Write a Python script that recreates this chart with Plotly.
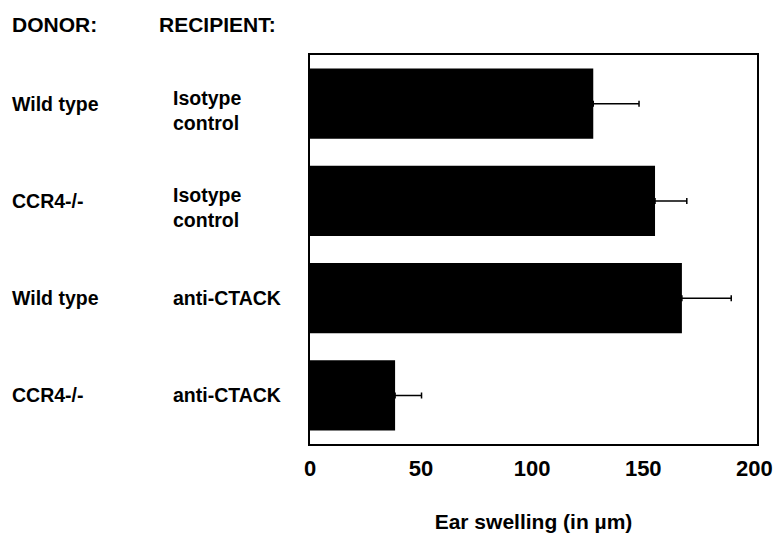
import plotly.graph_objects as go

donors = ["Wild type", "CCR4-/-", "Wild type", "CCR4-/-"]
recipients = ["Isotype<br>control", "Isotype<br>control", "anti-CTACK", "anti-CTACK"]
swelling = [127.5, 155.3, 167.4, 38.3]
errors = [20.6, 14.3, 22.2, 11.9]
xticks = [0, 50, 100, 150, 200]
header_donor = "DONOR:"
header_recipient = "RECIPIENT:"
x_title = "Ear swelling (in µm)"

W, H = 779, 533
ML, MR, MT, MB = 310, 22, 55, 89
PW = W - ML - MR
PH = H - MT - MB

def px2paper(px):
    return (px - ML) / PW

def py2paper(py):
    return 1 - (py - MT) / PH

FONT = "Liberation Sans, Arial, Helvetica, sans-serif"
rows = list(range(len(donors)))

fig = go.Figure()
fig.add_trace(go.Bar(
    x=swelling, y=rows, orientation="h",
    marker=dict(color="black", line=dict(width=0)),
    width=0.72,
    error_x=dict(type="data", array=errors, symmetric=False,
                 arrayminus=[0] * len(errors),
                 color="black", thickness=1.5, width=3),
    showlegend=False,
))

annotations = []
for i, (d, r) in enumerate(zip(donors, recipients)):
    annotations.append(dict(
        x=px2paper(10), xref="paper", y=i, yref="y",
        text=f"<b>{d}</b>", showarrow=False, xanchor="left", yanchor="middle",
        font=dict(family=FONT, size=19.5, color="black"), align="left"))
    two_line = "<br>" in r
    annotations.append(dict(
        x=px2paper(171), xref="paper", y=i, yref="y",
        yshift=-7 if two_line else 0,
        text=f"<b>{r}</b>", showarrow=False, xanchor="left", yanchor="middle",
        font=dict(family=FONT, size=19.5, color="black"), align="left"))

annotations.append(dict(x=px2paper(10), xref="paper", y=py2paper(25), yref="paper",
                        text=f"<b>{header_donor}</b>", showarrow=False,
                        xanchor="left", yanchor="middle",
                        font=dict(family=FONT, size=21, color="black")))
annotations.append(dict(x=px2paper(157), xref="paper", y=py2paper(25), yref="paper",
                        text=f"<b>{header_recipient}</b>", showarrow=False,
                        xanchor="left", yanchor="middle",
                        font=dict(family=FONT, size=21, color="black")))

fig.update_layout(
    width=W, height=H,
    margin=dict(l=ML, r=MR, t=MT, b=MB, pad=0, autoexpand=False),
    paper_bgcolor="white", plot_bgcolor="white",
    annotations=annotations,
    xaxis=dict(range=[0, 201.2], tickvals=xticks, ticktext=[f"<b>{t}</b>" for t in xticks],
               showgrid=False, zeroline=False, automargin=False,
               showline=True, mirror=True, linecolor="black", linewidth=1.5,
               ticks="", ticklabelstandoff=4,
               tickfont=dict(family=FONT, size=22, color="black"),
               title=dict(text=f"<b>{x_title}</b>", standoff=38,
                          font=dict(family=FONT, size=21, color="black"))),
    yaxis=dict(range=[3.5, -0.5], showticklabels=False, showgrid=False, zeroline=False,
               automargin=False,
               showline=True, mirror=True, linecolor="black", linewidth=1.5, ticks=""),
)

fig.write_html("out.html", config={"displayModeBar": False},
               post_script="document.body.style.margin='0';document.body.style.overflow='hidden';")
